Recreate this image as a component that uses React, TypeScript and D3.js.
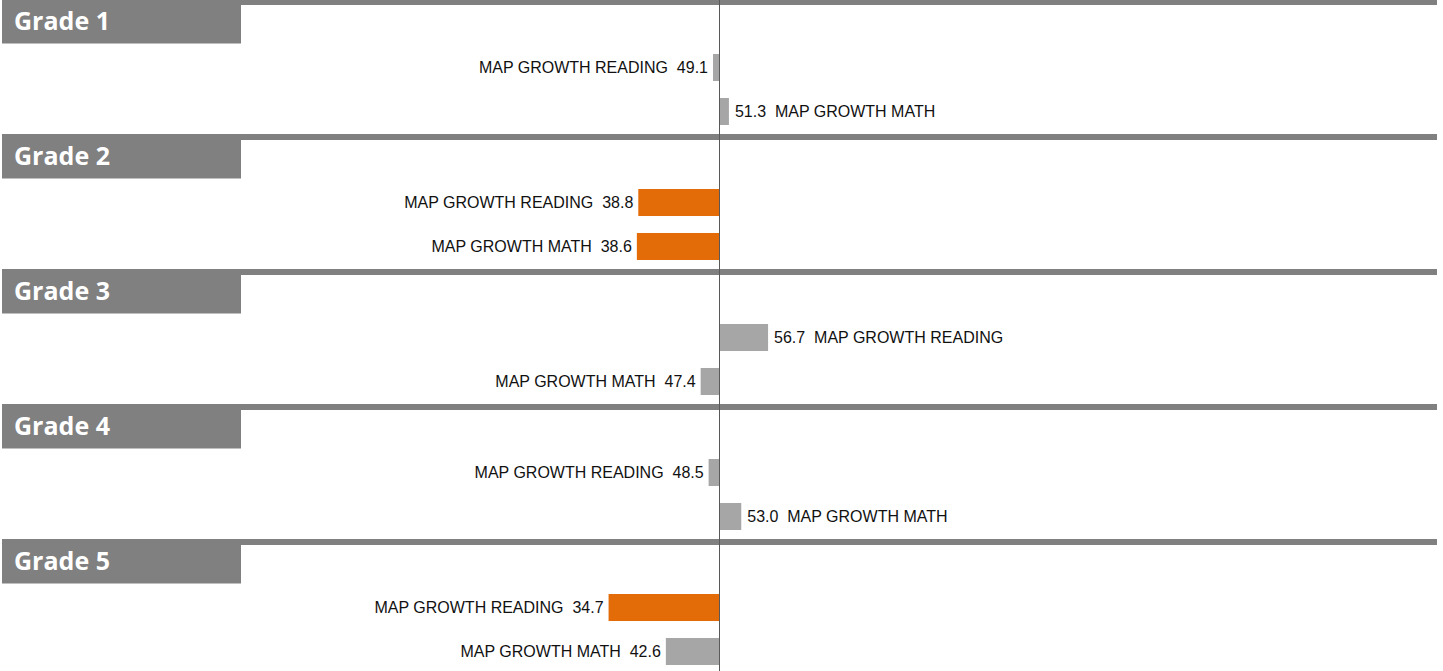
import type React from "react"
import { useEffect, useRef } from "react"
import * as d3 from "d3"

const grades = ["Grade 1", "Grade 2", "Grade 3", "Grade 4", "Grade 5"]
const subjects = ["MAP GROWTH READING", "MAP GROWTH MATH"]
const readingValues = [49.1, 38.8, 56.7, 48.5, 34.7]
const mathValues = [51.3, 38.6, 47.4, 53.0, 42.6]

// below this percentile the bar is flagged in orange
const flagBelow = 40
const midpoint = 50

const width = 1443
const height = 671

const App: React.FC = () => {
  const svgRef = useRef<SVGSVGElement | null>(null)

  useEffect(() => {
    const rows = grades.flatMap((g, i) => [
      { grade: g, subject: subjects[0], value: readingValues[i] },
      { grade: g, subject: subjects[1], value: mathValues[i] },
    ])

    const svg = d3.select(svgRef.current)
    svg.selectAll("*").remove()

    const x = d3.scaleLinear().domain([0, 100]).range([357, 1082])

    const panel = d3.scaleBand<string>().domain(grades).range([-1, 674]).padding(0)
    const inner = d3
      .scaleBand<string>()
      .domain(subjects)
      .range([44, 137])
      .paddingInner(0.386)
      .paddingOuter(0.25)

    const fmt = d3.format(".1f")

    // grade separators + header tabs
    const heads = svg
      .selectAll(".head")
      .data(grades)
      .enter()
      .append("g")
      .attr("class", "head")
      .attr("transform", (d) => `translate(0,${panel(d)})`)

    heads.append("rect").attr("x", 2).attr("y", 0).attr("width", 1435).attr("height", 6).attr("fill", "#808080")
    heads.append("rect").attr("x", 2).attr("y", 0).attr("width", 239).attr("height", 44.5).attr("fill", "#808080")
    heads
      .append("text")
      .attr("x", 14)
      .attr("y", 31)
      .attr("fill", "#ffffff")
      .attr("font-family", "'Open Sans', sans-serif")
      .attr("font-weight", 700)
      .attr("font-size", 25)
      .text((d) => d)

    // bars
    const rowY = (d: { grade: string; subject: string }) => (panel(d.grade) ?? 0) + (inner(d.subject) ?? 0)

    svg
      .selectAll(".bar")
      .data(rows)
      .enter()
      .append("rect")
      .attr("class", "bar")
      .attr("x", (d) => Math.min(x(d.value), x(midpoint)))
      .attr("y", rowY)
      .attr("width", (d) => Math.abs(x(d.value) - x(midpoint)))
      .attr("height", inner.bandwidth())
      .attr("fill", (d) => (d.value < flagBelow ? "#E36C09" : "#A6A6A6"))

    // labels
    svg
      .selectAll(".lbl")
      .data(rows)
      .enter()
      .append("text")
      .attr("class", "lbl")
      .attr("x", (d) => (d.value < midpoint ? x(d.value) - 5 : x(d.value) + 6))
      .attr("y", (d) => rowY(d) + inner.bandwidth() / 2)
      .attr("dy", "0.36em")
      .attr("text-anchor", (d) => (d.value < midpoint ? "end" : "start"))
      .attr("font-family", "'Liberation Sans', Arial, sans-serif")
      .attr("font-size", 16)
      .attr("fill", "#111")
      .style("white-space", "pre")
      .text((d) => (d.value < midpoint ? `${d.subject}  ${fmt(d.value)}` : `${fmt(d.value)}  ${d.subject}`))

    // midpoint axis line
    svg
      .append("line")
      .attr("x1", x(midpoint))
      .attr("x2", x(midpoint))
      .attr("y1", 0)
      .attr("y2", height)
      .attr("stroke", "#595959")
      .attr("stroke-width", 1)
  }, [])

  return (
    <svg
      ref={svgRef}
      width={width}
      height={height}
      style={{ position: "absolute", left: 0, top: 0, display: "block", background: "#fff" }}
    ></svg>
  )
}

export default App
